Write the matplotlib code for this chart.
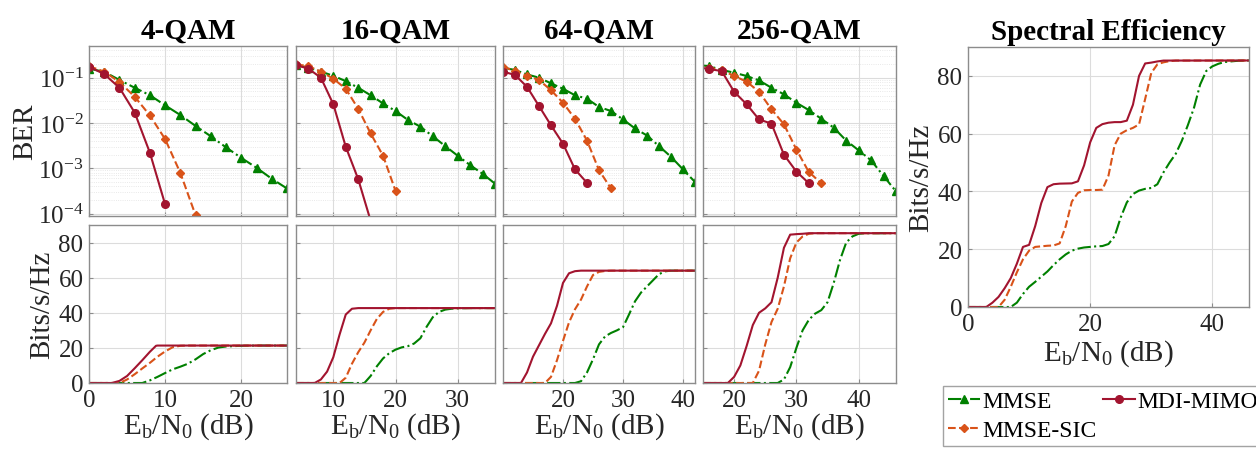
import matplotlib
matplotlib.use("Agg")
import matplotlib.pyplot as plt
import numpy as np
from matplotlib.ticker import LogLocator, NullFormatter

plt.rcParams["font.family"] = ["Liberation Serif", "DejaVu Serif"]
plt.rcParams["mathtext.fontset"] = "custom"
plt.rcParams["mathtext.rm"] = "Liberation Serif"
plt.rcParams["mathtext.it"] = "Liberation Serif:italic"
plt.rcParams["mathtext.bf"] = "Liberation Serif:bold"

# ---- BER curves (markers every 2 dB) ----
ber_x_4qam = np.arange(0, 27, 2)
ber_mmse_4qam = [0.158, 0.135, 0.089, 0.060, 0.041, 0.0245, 0.015, 0.0086,
                 0.0051, 0.0029, 0.0017, 0.00103, 0.00059, 0.00036]
ber_sic_4qam = [0.18, 0.136, 0.080, 0.038, 0.0147, 0.0044, 0.00079, 9.2e-5]
ber_mdi_4qam = [0.175, 0.12, 0.060, 0.017, 0.0022, 0.00016]

ber_x_16qam = np.arange(4, 37, 2)
ber_mmse_16qam = [0.19, 0.166, 0.136, 0.11, 0.084, 0.060, 0.041, 0.027,
                  0.0184, 0.0117, 0.0083, 0.0051, 0.0031, 0.0019, 0.00118,
                  0.00076, 0.00046]
ber_sic_16qam = [0.197, 0.18, 0.136, 0.095, 0.057, 0.0207, 0.0059, 0.0019,
                 0.00032]
ber_mdi_16qam = [0.19, 0.158, 0.10, 0.026, 0.003, 0.00058, 7e-5]

ber_x_64qam = np.arange(10, 43, 2)
ber_mmse_64qam = [0.166, 0.148, 0.118, 0.10, 0.075, 0.057, 0.041, 0.0344,
                  0.0226, 0.0184, 0.012, 0.0076, 0.0053, 0.0031, 0.0018,
                  0.00095, 0.0005]
ber_sic_64qam = [0.175, 0.14, 0.11, 0.089, 0.053, 0.028, 0.0124, 0.0041,
                 0.00091, 0.00036]
ber_mdi_64qam = [0.136, 0.115, 0.063, 0.0237, 0.0089, 0.0035, 0.00095,
                 0.00048]

ber_x_256qam = np.arange(14, 47, 2)
ber_mmse_256qam = [0.19, 0.18, 0.148, 0.129, 0.109, 0.087, 0.060, 0.043,
                   0.028, 0.0193, 0.0124, 0.0079, 0.0041, 0.0025, 0.0015,
                   0.00068, 0.00031]
ber_sic_256qam = [0.18, 0.166, 0.148, 0.109, 0.082, 0.049, 0.020, 0.0094,
                  0.0026, 0.00083, 0.00047]
ber_mdi_256qam = [0.17, 0.155, 0.14, 0.049, 0.026, 0.012, 0.0097, 0.0020,
                  0.00085, 0.00047]

# ---- spectral efficiency per modulation (Bits/s/Hz) ----
se_mdi_4qam_x = [0, 3, 4, 5, 6, 7, 8, 8.8, 9, 26]
se_mdi_4qam = [0, 0, 1.2, 4, 8.4, 13, 17.8, 21.2, 21.33, 21.33]
se_sic_4qam_x = [0, 4, 5, 6, 7, 8, 9, 10, 11, 12, 13, 26]
se_sic_4qam = [0, 0, 2, 5, 8.3, 11.5, 15, 18, 20.4, 21.2, 21.33, 21.33]
se_mmse_4qam_x = [0, 7, 8, 9, 10, 11, 12, 13, 14, 15, 16, 17, 18, 20, 22, 26]
se_mmse_4qam = [0, 0, 1.5, 3.5, 5.7, 7.8, 9.3, 11, 13.5, 16.5, 18.7, 20.2,
                20.8, 21.2, 21.33, 21.33]

se_mdi_16qam_x = [4, 7, 8, 9, 10, 11, 12, 13, 14, 36]
se_mdi_16qam = [0, 0, 2, 6.5, 14.7, 27.5, 39, 42.3, 42.67, 42.67]
se_sic_16qam_x = [4, 11, 12, 13, 14, 15, 16, 17, 18, 19, 20, 36]
se_sic_16qam = [0, 0, 3, 11, 17.5, 23, 30, 36.5, 40.5, 42.3, 42.67, 42.67]
se_mmse_16qam_x = [4, 15, 16, 17, 18, 19, 20, 21, 22, 23, 24, 25, 26, 27,
                   28, 29, 30, 32, 36]
se_mmse_16qam = [0, 0, 4, 9.5, 14, 17, 19, 20.3, 21, 22.5, 25.5, 32, 37.5,
                 40.5, 41.8, 42.3, 42.5, 42.67, 42.67]

se_mdi_64qam_x = [10, 13, 14, 15, 16, 17, 18, 19, 20, 21, 22, 23, 42]
se_mdi_64qam = [0, 0, 6, 15, 21.5, 28, 34, 44, 57, 62.5, 63.7, 64, 64]
se_sic_64qam_x = [10, 17, 18, 19, 20, 21, 22, 23, 24, 25, 26, 27, 28, 42]
se_sic_64qam = [0, 0, 3.5, 13, 24, 34.5, 42, 47.5, 55, 61.5, 63.3, 63.8, 64,
                64]
se_mmse_64qam_x = [10, 22, 23, 24, 25, 26, 27, 28, 29, 30, 31, 32, 33, 34,
                   35, 36, 37, 38, 42]
se_mmse_64qam = [0, 0, 1, 6, 13.5, 22, 26.5, 28.5, 30, 31.8, 39, 46.5, 51.5,
                 55, 58.5, 62, 63.6, 64, 64]

se_mdi_256qam_x = [15, 19, 20, 21, 22, 23, 24, 25, 26, 27, 28, 29, 30, 31,
                   32, 46]
se_mdi_256qam = [0, 0, 3.5, 10, 21, 33, 40, 42.5, 46, 60, 77, 84.5, 84.8, 85,
                 85.33, 85.33]
se_sic_256qam_x = [15, 23, 24, 25, 26, 27, 28, 29, 30, 31, 32, 33, 46]
se_sic_256qam = [0, 0, 7, 22, 34.7, 42.3, 55, 71, 80, 83.5, 85, 85.33, 85.33]
se_mmse_256qam_x = [15, 27, 28, 29, 30, 31, 32, 33, 34, 35, 36, 37, 38, 39,
                    40, 41, 46]
se_mmse_256qam = [0, 0, 2, 9, 20, 30, 36, 39.5, 41.5, 46, 57, 70, 80, 83.5,
                  85, 85.3, 85.33]

# ---- overall spectral efficiency ----
se_all_mdi_x = [0, 3, 4, 5, 6, 7, 8, 9, 10, 11, 12, 13, 14, 15, 17, 18, 19,
                20, 21, 22, 23, 24, 25, 26, 27, 28, 29, 30, 31, 32, 46]
se_all_mdi = [0, 0, 1.5, 3.5, 6.5, 10, 15, 20.8, 21.5, 28, 36, 41.5, 42.5,
              42.7, 42.8, 43.5, 49, 57, 62, 63.3, 63.8, 64, 64, 64.5, 70, 80,
              84.3, 84.6, 85, 85.3, 85.33]
se_all_sic_x = [0, 5, 6, 7, 8, 9, 10, 11, 12, 13, 14, 15, 16, 17, 18, 19,
                20, 21, 22, 23, 24, 25, 26, 27, 28, 29, 30, 31, 32, 33, 34, 46]
se_all_sic = [0, 0, 2.5, 7, 12, 16.5, 19.5, 20.8, 21, 21.2, 21.3, 22, 28,
              36.5, 39.5, 40.4, 40.5, 40.5, 40.6, 45.5, 56, 60, 61.2, 62,
              63.2, 72, 81, 84, 84.7, 85.1, 85.3, 85.33]
se_all_mmse_x = [0, 7, 8, 9, 10, 11, 12, 13, 14, 15, 16, 17, 18, 19, 20, 21,
                 22, 23, 24, 25, 26, 27, 28, 29, 30, 31, 32, 33, 34, 35, 36,
                 37, 38, 39, 40, 41, 42, 44, 46]
se_all_mmse = [0, 0, 1.5, 4.5, 7, 8.7, 10.5, 12.3, 14.5, 16.5, 18.2, 19.5,
               20.2, 20.6, 20.8, 21, 21.1, 21.8, 24.5, 31, 36.2, 39.1, 40.3,
               40.9, 41.2, 42.5, 46.6, 50, 53, 57.5, 63, 69, 77, 81.7, 83.3,
               84.2, 84.8, 85.2, 85.33]

titles = ["4-QAM", "16-QAM", "64-QAM", "256-QAM"]
xlims = [(0, 26), (4, 36), (10, 42), (15, 46)]
xticks = [[0, 10, 20], [10, 20, 30], [20, 30, 40], [20, 30, 40]]

ber_x = [ber_x_4qam, ber_x_16qam, ber_x_64qam, ber_x_256qam]
ber_mmse = [ber_mmse_4qam, ber_mmse_16qam, ber_mmse_64qam, ber_mmse_256qam]
ber_sic = [ber_sic_4qam, ber_sic_16qam, ber_sic_64qam, ber_sic_256qam]
ber_mdi = [ber_mdi_4qam, ber_mdi_16qam, ber_mdi_64qam, ber_mdi_256qam]
se_mmse = [(se_mmse_4qam_x, se_mmse_4qam), (se_mmse_16qam_x, se_mmse_16qam),
           (se_mmse_64qam_x, se_mmse_64qam), (se_mmse_256qam_x, se_mmse_256qam)]
se_sic = [(se_sic_4qam_x, se_sic_4qam), (se_sic_16qam_x, se_sic_16qam),
          (se_sic_64qam_x, se_sic_64qam), (se_sic_256qam_x, se_sic_256qam)]
se_mdi = [(se_mdi_4qam_x, se_mdi_4qam), (se_mdi_16qam_x, se_mdi_16qam),
          (se_mdi_64qam_x, se_mdi_64qam), (se_mdi_256qam_x, se_mdi_256qam)]

c_mmse = "#008000"
c_sic = "#D95319"
c_mdi = "#A2142F"
frame = "#8c8c8c"
txt = "#262626"

sty_mmse = dict(color=c_mmse, ls="-.", lw=1.5, marker="^", ms=6)
sty_sic = dict(color=c_sic, ls="--", lw=1.5, marker="D", ms=4.5)
sty_mdi = dict(color=c_mdi, ls="-", lw=1.5, marker="o", ms=5.5)

TICK = 18
LAB = 21
XLAB = r"$\mathrm{E_b/N_0}$ (dB)"


def style(ax):
    for s in ax.spines.values():
        s.set_color(frame)
        s.set_linewidth(1.0)
    ax.tick_params(direction="in", length=3, colors=frame, labelcolor=txt,
                   labelsize=TICK, pad=4)
    ax.tick_params(which="minor", length=0)
    ax.grid(True, which="major", color="#dcdcdc", lw=0.8)


fig = plt.figure(figsize=(12.56, 4.64), dpi=100)

W, H = 1256, 464
cols = [(89, 287), (296, 495), (503, 695), (703, 896)]
for i, (l, r) in enumerate(cols):
    ax = fig.add_axes([l / W, 1 - 217 / H, (r - l) / W, 170 / H])
    x = ber_x[i]
    ax.semilogy(x[:len(ber_mmse[i])], ber_mmse[i], **sty_mmse)
    ax.semilogy(x[:len(ber_sic[i])], ber_sic[i], **sty_sic)
    ax.semilogy(x[:len(ber_mdi[i])], ber_mdi[i], **sty_mdi)
    ax.set_xlim(*xlims[i])
    ax.set_ylim(8.9e-5, 0.5)
    ax.set_xticks(xticks[i])
    ax.set_xticklabels([])
    ax.yaxis.set_major_locator(LogLocator(base=10, numticks=10))
    ax.yaxis.set_minor_locator(LogLocator(base=10, subs=np.arange(2, 10),
                                          numticks=20))
    ax.yaxis.set_minor_formatter(NullFormatter())
    style(ax)
    ax.grid(True, which="minor", axis="y", color="#e2e2e2", lw=0.6, ls=":")
    ax.set_title(titles[i], fontsize=21, fontweight="bold", pad=6)
    if i == 0:
        ax.set_ylabel("BER", fontsize=LAB, color=txt, labelpad=0)
    else:
        ax.set_yticklabels([])

    bx = fig.add_axes([l / W, 1 - 384 / H, (r - l) / W, 158 / H])
    bx.plot(*se_mmse[i], color=c_mmse, ls="-.", lw=1.5)
    bx.plot(*se_sic[i], color=c_sic, ls="--", lw=1.5)
    bx.plot(*se_mdi[i], color=c_mdi, ls="-", lw=1.5)
    bx.set_xlim(*xlims[i])
    bx.set_ylim(0, 90)
    bx.set_xticks(xticks[i])
    bx.set_yticks([0, 20, 40, 60, 80])
    style(bx)
    bx.set_xlabel(XLAB, fontsize=LAB, color=txt, labelpad=0)
    if i == 0:
        bx.set_ylabel("Bits/s/Hz", fontsize=LAB, color=txt, labelpad=2)
    else:
        bx.set_yticklabels([])

# overall spectral efficiency
sx = fig.add_axes([968 / W, 1 - 308 / H, 281 / W, 260 / H])
sx.plot(se_all_mmse_x, se_all_mmse, color=c_mmse, ls="-.", lw=1.5)
sx.plot(se_all_sic_x, se_all_sic, color=c_sic, ls="--", lw=1.5)
sx.plot(se_all_mdi_x, se_all_mdi, color=c_mdi, ls="-", lw=1.5)
sx.set_xlim(0, 46)
sx.set_ylim(0, 90)
sx.set_xticks([0, 20, 40])
sx.set_yticks([0, 20, 40, 60, 80])
style(sx)
sx.set_title("Spectral Efficiency", fontsize=21, fontweight="bold", pad=6)
sx.set_xlabel(XLAB, fontsize=LAB, color=txt, labelpad=2)
sx.set_ylabel("Bits/s/Hz", fontsize=LAB, color=txt, labelpad=2)

# legend
h1, = sx.plot([], [], **sty_mmse)
h2, = sx.plot([], [], **sty_sic)
h3, = sx.plot([], [], **sty_mdi)
leg = fig.legend([h1, h2, h3], ["MMSE", "MMSE-SIC", "MDI-MIMO"], ncol=2,
                 loc="upper left", bbox_to_anchor=(943 / W, 1 - 387 / H),
                 fontsize=17, frameon=True, fancybox=False, handlelength=1.35,
                 handletextpad=0.1, columnspacing=0.3, labelspacing=0.3,
                 borderpad=0.2, borderaxespad=0)
leg.get_frame().set_edgecolor(frame)
leg.get_frame().set_linewidth(1.0)

fig.savefig("out.png", dpi=100)
